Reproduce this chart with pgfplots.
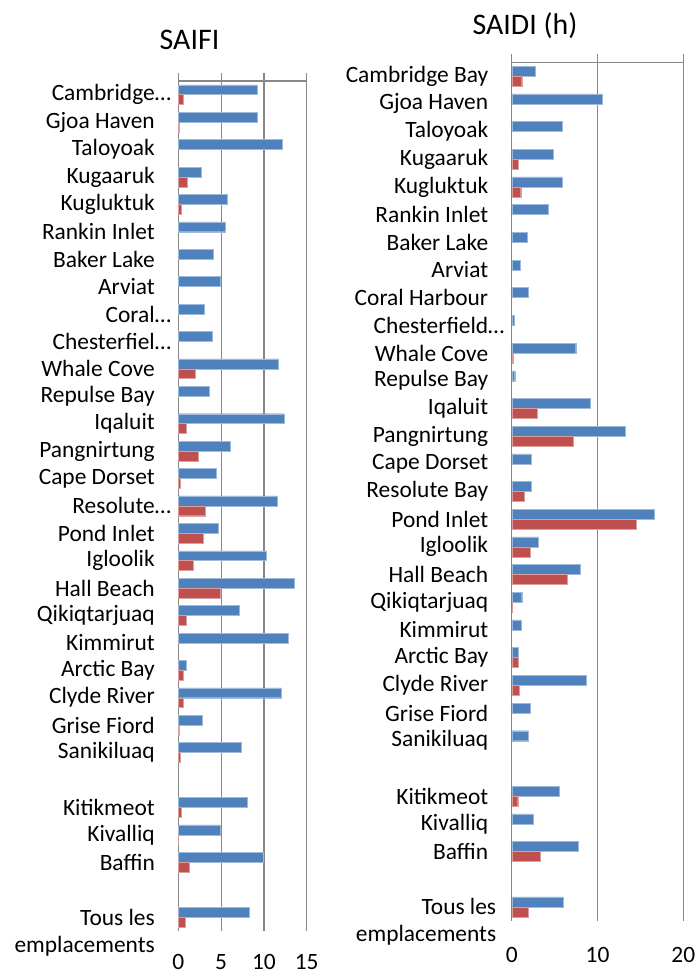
\documentclass[border=0pt]{standalone}
\usepackage{pgfplots}
\pgfplotsset{compat=1.18}
\usepackage{fontspec}
\setmainfont{Carlito}
\definecolor{xblue}{HTML}{4F81BD}
\definecolor{xred}{HTML}{C0504D}
\definecolor{xgrid}{HTML}{878787}
\newcommand{\lab}{\fontsize{23.5}{28}\selectfont}
\tikzset{topline/.style={xgrid, line width=1.2bp}}
\pgfplotsset{
  panel/.style={
    scale only axis,
    xbar, bar width=0.36,
    ymin=-0.5, ymax=30.5, xmin=0,
    axis x line*=bottom, axis y line*=left,
    x axis line style={draw=none},
    tick align=outside,
    major tick length=8bp, minor tick length=8bp,
    ytick={0,2,3,4,6,7,8,9,10,11,12,13,14,15,16,17,18,19,20,21,22,23,24,25,26,27,28,29,30},
    minor ytick={-0.5,0.5,...,30.5},
    ytick style={draw=none},
    xtick style={draw=none},
    minor tick style={xgrid, line width=1.2bp},
    axis line style={xgrid, line width=1.2bp},
    xmajorgrids, major grid style={xgrid, line width=1.2bp},
    /pgf/number format/assume math mode=true,
    ticklabel style={font=\lab},
    yticklabel style={xshift=-12bp},
    clip=false,
  },
  bb/.style={fill=xblue, draw=xblue!55!white, line width=0.4bp, bar shift=0.18},
  rr/.style={fill=xred, draw=xred!55!white, line width=0.4bp, bar shift=-0.18},
}
\begin{document}
\begin{tikzpicture}
\useasboundingbox (0,0) rectangle (699bp,974bp);
\node[font=\fontsize{30}{36}\selectfont, anchor=base] at (189.5bp,924bp) {SAIFI};
\node[font=\fontsize{30}{36}\selectfont, anchor=base] at (525bp,939bp) {SAIDI (h)};
% ---------- SAIFI ----------
\begin{axis}[panel,
  at={(178.3bp,43.3bp)}, anchor=south west,
  width=128.4bp, height=849.7bp,
  xmax=15, xtick={0,5,10,15},
  xticklabel style={yshift=-12.5bp},
  yticklabels={{Tous les\llap{\smash{\raisebox{-27bp}{emplacements}}}},Baffin,Kivalliq,Kitikmeot,Sanikiluaq,Grise Fiord,Clyde River,Arctic Bay,Kimmirut,Qikiqtarjuaq,Hall Beach,Igloolik,Pond Inlet,{Resolute\rlap{…}},Cape Dorset,Pangnirtung,Iqaluit,Repulse Bay,Whale Cove,{Chesterfiel\rlap{…}},{Coral\rlap{…}},Arviat,Baker Lake,Rankin Inlet,Kugluktuk,Kugaaruk,Taloyoak,Gjoa Haven,{Cambridge\rlap{…}}},
]
\addplot[bb] coordinates {
(9.22,30) (9.26,29) (12.18,28) (2.72,27) (5.72,26) (5.49,25) (4.09,24) (4.94,23)
(3.0,22) (3.93,21) (11.71,20) (3.62,19) (12.33,18) (6.11,17) (4.47,16) (11.6,15)
(4.71,14) (10.31,13) (13.5,12) (7.12,11) (12.84,10) (0.89,9) (12.06,8) (2.84,7)
(7.32,6) (8.09,4) (4.86,3) (9.92,2) (8.29,0)};
\addplot[rr] coordinates {
(0.58,30) (0.08,29) (1.0,27) (0.31,26) (2.02,20) (0.93,18) (2.37,17) (0.19,16)
(3.15,15) (2.92,14) (1.71,13) (4.86,12) (0.89,11) (0.62,9) (0.58,8) (0.16,7)
(0.23,6) (0.35,4) (0.04,3) (1.28,2) (0.78,0)};
\draw[topline] (axis cs:0,30.5) -- (axis cs:15,30.5);
\draw[topline] (axis cs:0,30.5) -- ([yshift=8bp]axis cs:0,30.5);
\draw[topline] (axis cs:5,30.5) -- ([yshift=8bp]axis cs:5,30.5);
\draw[topline] (axis cs:10,30.5) -- ([yshift=8bp]axis cs:10,30.5);
\draw[topline] (axis cs:15,30.5) -- ([yshift=8bp]axis cs:15,30.5);
\end{axis}
% ---------- SAIDI ----------
\begin{axis}[panel,
  at={(511.7bp,53.3bp)}, anchor=south west,
  width=171.6bp, height=858.4bp,
  xmax=20, xtick={0,10,20},
  xticklabel style={yshift=-15bp},
  yticklabels={{Tous les\llap{\smash{\raisebox{-27bp}{emplacements}}}\hspace*{-8bp}},Baffin,Kivalliq,Kitikmeot,Sanikiluaq,Grise Fiord,Clyde River,Arctic Bay,Kimmirut,Qikiqtarjuaq,Hall Beach,Igloolik,Pond Inlet,Resolute Bay,Cape Dorset,Pangnirtung,Iqaluit,Repulse Bay,Whale Cove,{Chesterfield\rlap{…}},Coral Harbour,Arviat,Baker Lake,Rankin Inlet,Kugluktuk,Kugaaruk,Taloyoak,Gjoa Haven,Cambridge Bay},
]
\addplot[bb] coordinates {
(2.73,30) (10.55,29) (5.94,28) (4.84,27) (5.86,26) (4.30,25) (1.76,24) (0.94,23)
(1.95,22) (0.27,21) (7.46,20) (0.35,19) (9.18,18) (13.2,17) (2.27,16) (2.27,15)
(16.6,14) (3.13,13) (8.0,12) (1.17,11) (1.09,10) (0.78,9) (8.63,8) (2.19,7)
(1.95,6) (5.59,4) (2.46,3) (7.77,2) (6.02,0)};
\addplot[rr] coordinates {
(1.17,30) (0.74,27) (1.05,26) (0.16,20) (2.93,18) (7.15,17) (1.41,15) (14.49,14)
(2.19,13) (6.52,12) (0.08,11) (0.74,9) (0.9,8) (0.70,4) (3.28,2) (1.95,0)};
\draw[topline] (axis cs:0,30.5) -- (axis cs:20,30.5);
\draw[topline] (axis cs:0,30.5) -- ([yshift=8bp]axis cs:0,30.5);
\draw[topline] (axis cs:10,30.5) -- ([yshift=8bp]axis cs:10,30.5);
\draw[topline] (axis cs:20,30.5) -- ([yshift=8bp]axis cs:20,30.5);
\end{axis}
\end{tikzpicture}
\end{document}
